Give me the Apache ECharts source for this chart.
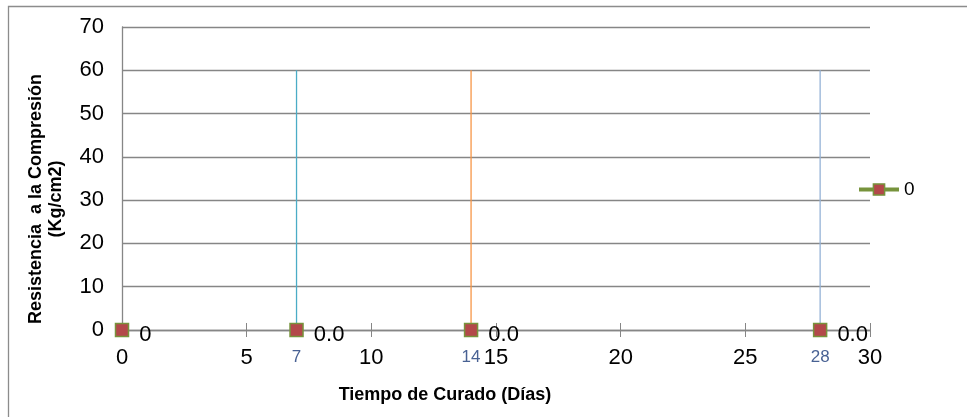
<!DOCTYPE html>
<html><head><meta charset="utf-8">
<script src="https://cdn.jsdelivr.net/npm/echarts@6/dist/echarts.min.js"></script>
<style>html,body{margin:0;padding:0;background:#fff}#c{width:967px;height:417px}</style>
</head><body><div id="c"></div>
<script>
const days = [0, 7, 14, 28];
const strength = [0, 0, 0, 0];
const pointLabels = ['0', '0.0', '0.0', '0.0'];
const dropDays = [7, 14, 28];
const dropTop = [60, 60, 60];
const dropColors = ['#4BACC6', '#F79646', '#95B3D7'];
const seriesName = '0';
const xTitle = 'Tiempo de Curado (Días)';
const yTitle1 = 'Resistencia  a la Compresión';
const yTitle2 = '(Kg/cm2)';

const chart = echarts.init(document.getElementById('c'), null, {renderer: 'canvas'});
const FONT = '"Liberation Sans", Arial, sans-serif';

const dropSeries = dropDays.map((d, i) => ({
  type: 'line', silent: true, symbol: 'none', z: 3,
  data: [[d, 0], [d, dropTop[i]]],
  lineStyle: {color: dropColors[i], width: 1.3}
}));

chart.setOption({
  animation: false,
  grid: {left: 122, right: 97, top: 27, bottom: 87},
  legend: {
    left: 852, top: 175, itemWidth: 40, itemHeight: 14, itemGap: 4,
    textStyle: {fontFamily: FONT, fontSize: 19, color: '#000'},
    data: [{name: seriesName, itemStyle: {color: '#B3484A', borderColor: '#77933C', borderWidth: 1.5}, lineStyle: {color: '#77933C', width: 4}}]
  },
  xAxis: [{
    type: 'value', min: 0, max: 30, interval: 5,
    axisLine: {lineStyle: {color: '#868686', width: 1.3}},
    axisTick: {show: true, length: 7, lineStyle: {color: '#868686'}},
    axisLabel: {fontFamily: FONT, fontSize: 22, color: '#000', margin: 17},
    splitLine: {show: false}
  }, {
    type: 'value', min: 0, max: 30, interval: 5, position: 'bottom',
    axisLine: {show: false},
    axisTick: {show: true, inside: true, length: 7, lineStyle: {color: '#868686'}},
    axisLabel: {show: false}, splitLine: {show: false}
  }],
  yAxis: {
    type: 'value', min: 0, max: 70, interval: 10,
    axisLine: {show: true, lineStyle: {color: '#868686', width: 1.3}},
    axisTick: {show: false},
    axisLabel: {fontFamily: FONT, fontSize: 22, color: '#000', margin: 18},
    splitLine: {lineStyle: {color: '#868686', width: 1.3}}
  },
  graphic: [
    {type: 'rect', shape: {x: 8.5, y: 6.5, width: 1000, height: 500}, style: {fill: 'none', stroke: '#8C8C8C', lineWidth: 1.3}, z: -1},
    {type: 'text', x: 445, y: 395, style: {text: xTitle, font: 'bold 18px ' + FONT, fill: '#000', textAlign: 'center', textVerticalAlign: 'middle'}},
    {type: 'text', x: 36, y: 199, rotation: Math.PI / 2, style: {text: yTitle1, font: 'bold 18px ' + FONT, fill: '#000', textAlign: 'center', textVerticalAlign: 'middle'}},
    {type: 'text', x: 56, y: 199, rotation: Math.PI / 2, style: {text: yTitle2, font: 'bold 18px ' + FONT, fill: '#000', textAlign: 'center', textVerticalAlign: 'middle'}}
  ],
  series: [
    ...dropSeries,
    {
      type: 'scatter', silent: true, symbolSize: 0, z: 1,
      data: dropDays.map(d => [d, 0]),
      label: {show: true, position: 'bottom', distance: 19, formatter: p => String(p.value[0]), fontFamily: FONT, fontSize: 17, color: '#1A3A78'}
    },
    {
      name: seriesName, type: 'line', z: 4,
      data: days.map((d, i) => [d, strength[i]]),
      symbol: 'rect', symbolSize: 13,
      itemStyle: {color: '#B3484A', borderColor: '#77933C', borderWidth: 1.5},
      lineStyle: {width: 0, color: '#77933C'},
      label: {show: true, position: 'right', distance: 10, offset: [0, 5], formatter: p => pointLabels[p.dataIndex], fontFamily: FONT, fontSize: 22, color: '#000'}
    }
  ]
});
</script></body></html>
